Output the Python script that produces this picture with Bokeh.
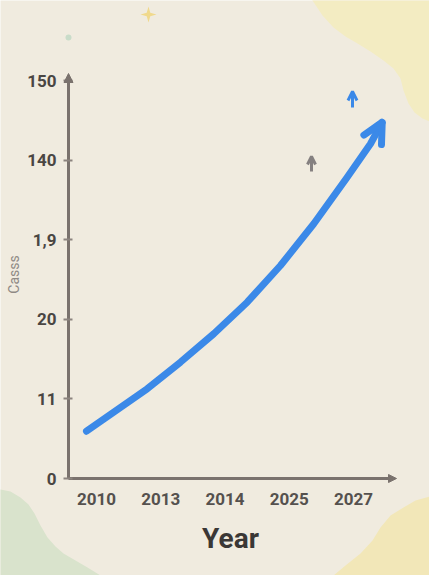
import math
from bokeh.plotting import figure
from bokeh.models import FixedTicker, Arrow, NormalHead, OpenHead, Range1d
from bokeh.core.properties import value
from bokeh.embed import file_html
from bokeh.resources import INLINE

# ---- data -------------------------------------------------------------
x_tick_labels = ["2010", "2013", "2014", "2025", "2027"]
y_tick_labels = ["0", "11", "20", "1,9", "140", "150"]
# trend curve, in tick-index units of each axis
trend_x = [-0.156, 0.269, 0.789, 1.307, 1.826, 2.346, 2.864, 3.382, 3.902, 4.265, 4.447]
trend_y = [0.594, 0.833, 1.127, 1.461, 1.818, 2.215, 2.676, 3.200, 3.785, 4.205, 4.476]
x_title = "Year"
y_title = "Casss"

# ---- style ------------------------------------------------------------
BG = "#f0ebdf"
AX = "#7a726d"
BLUE = "#3b89e8"
FONT = "Roboto"

W, H = 429, 575
X0, XS = 96, 64.25      # px of first x tick, px per tick step
Y0, YS = 478, 79.6      # px of first y tick, px per tick step


def dx(px):
    return (px - X0) / XS


def dy(py):
    return (Y0 - py) / YS


def to_data(pts):
    return [dx(a) for a, b in pts], [dy(b) for a, b in pts]


xr = Range1d(dx(0), dx(W))
yr = Range1d(dy(H), dy(0))
p = figure(width=W, height=H, output_backend="svg", toolbar_location=None,
           x_range=xr, y_range=yr, min_border=0)
p.background_fill_color = BG
p.border_fill_color = BG
p.outline_line_color = None
p.grid.visible = False

# ---- decorative background --------------------------------------------
blobs = [
    ([(300, -10), (312, 0), (322, 15), (333, 27), (345, 36), (357, 43), (370, 51),
      (383, 60), (393, 68), (400, 78), (403, 90), (408, 103), (414, 112),
      (422, 118), (429, 121), (440, 122), (440, -10)], "#f3ecc2"),
    ([(-10, 488), (0, 489), (10, 491), (20, 497), (28, 504), (34, 513), (40, 525),
      (47, 537), (55, 546), (63, 553), (75, 560), (87, 567), (100, 575),
      (105, 585), (-10, 585)], "#d9e3cc"),
    ([(325, 585), (333, 575), (345, 565), (360, 553), (372, 540), (380, 527),
      (390, 515), (403, 507), (415, 500), (429, 496), (440, 495), (440, 585)],
     "#f2e7b8"),
]
for pts, col in blobs:
    xs, ys = to_data(pts)
    p.patch(xs, ys, fill_color=col, line_color=None)

cx, cy = 148, 14
star = []
for k in range(8):
    r = 8 if k % 2 == 0 else 2.5
    a = k * math.pi / 4
    star.append((cx + r * math.sin(a), cy - r * math.cos(a)))
xs, ys = to_data(star)
p.patch(xs, ys, fill_color="#f0d98c", line_color=None)
p.scatter([dx(68)], [dy(37)], size=6, fill_color="#c9dcc9", line_color=None)

# ---- axes -------------------------------------------------------------
x_left, x_right = dx(68), dx(392)
y_top = dy(76)

p.xaxis.ticker = FixedTicker(ticks=list(range(len(x_tick_labels))), minor_ticks=[])
p.xaxis.major_label_overrides = {i: t for i, t in enumerate(x_tick_labels)}
p.yaxis.ticker = FixedTicker(ticks=list(range(len(y_tick_labels))), minor_ticks=[])
p.yaxis.major_label_overrides = {i: t for i, t in enumerate(y_tick_labels)}
p.xaxis.fixed_location = 0
p.yaxis.fixed_location = x_left
p.xaxis.bounds = (x_left, x_right)
p.yaxis.bounds = (0, y_top)

for ax in (p.xaxis, p.yaxis):
    ax.axis_line_color = AX
    ax.axis_line_width = 3
    ax.major_label_text_font = FONT
    ax.major_label_text_font_style = "bold"
    ax.major_label_text_font_size = "17px"
    ax.major_label_text_color = "#4a4643"
    ax.minor_tick_line_color = None

p.xaxis.major_tick_line_color = None
p.xaxis.major_tick_in = 0
p.xaxis.major_tick_out = 0
p.xaxis.major_label_standoff = 14
p.xaxis.major_label_text_color = "#55514e"
p.xaxis.axis_label = x_title
p.xaxis.axis_label_text_font = FONT
p.xaxis.axis_label_text_font_style = "bold"
p.xaxis.axis_label_text_font_size = "28px"
p.xaxis.axis_label_text_color = "#3a3735"
p.xaxis.axis_label_standoff = 14

p.yaxis.major_tick_line_color = "#8c847f"
p.yaxis.major_tick_line_width = 2
p.yaxis.major_tick_in = 4
p.yaxis.major_tick_out = 5
p.yaxis.major_label_standoff = 7

# axis arrow heads
p.add_layout(Arrow(end=NormalHead(size=9, fill_color=AX, line_color=AX),
                   x_start=x_left, y_start=y_top - 0.1, x_end=x_left, y_end=dy(73),
                   line_color=AX, line_width=3))
p.add_layout(Arrow(end=NormalHead(size=8, fill_color=AX, line_color=AX),
                   x_start=x_right - 0.1, y_start=0, x_end=dx(396), y_end=0,
                   line_color=AX, line_width=3))

p.text(x=[dx(13)], y=[dy(274)], text=[y_title], angle=math.pi / 2,
       text_align="center", text_baseline="middle", text_font=value(FONT),
       text_font_size="14px", text_color="#8f8a85")

# ---- trend ------------------------------------------------------------
p.line(trend_x, trend_y, line_width=7, line_color=BLUE, line_cap="round",
       line_join="round")
p.add_layout(Arrow(end=OpenHead(size=20, line_width=7, line_color=BLUE, line_cap="round"),
                   x_start=trend_x[-2], y_start=trend_y[-2],
                   x_end=trend_x[-1], y_end=trend_y[-1], line_alpha=0))

# small decorative arrows
p.add_layout(Arrow(end=OpenHead(size=8, line_width=3, line_color="#858080"),
                   x_start=dx(311), y_start=dy(171), x_end=dx(311), y_end=dy(156),
                   line_color="#858080", line_width=3))
p.add_layout(Arrow(end=OpenHead(size=9, line_width=3, line_color=BLUE),
                   x_start=dx(352), y_start=dy(107), x_end=dx(352), y_end=dy(91),
                   line_color=BLUE, line_width=3))

open("out.html", "w").write(file_html(p, INLINE))
